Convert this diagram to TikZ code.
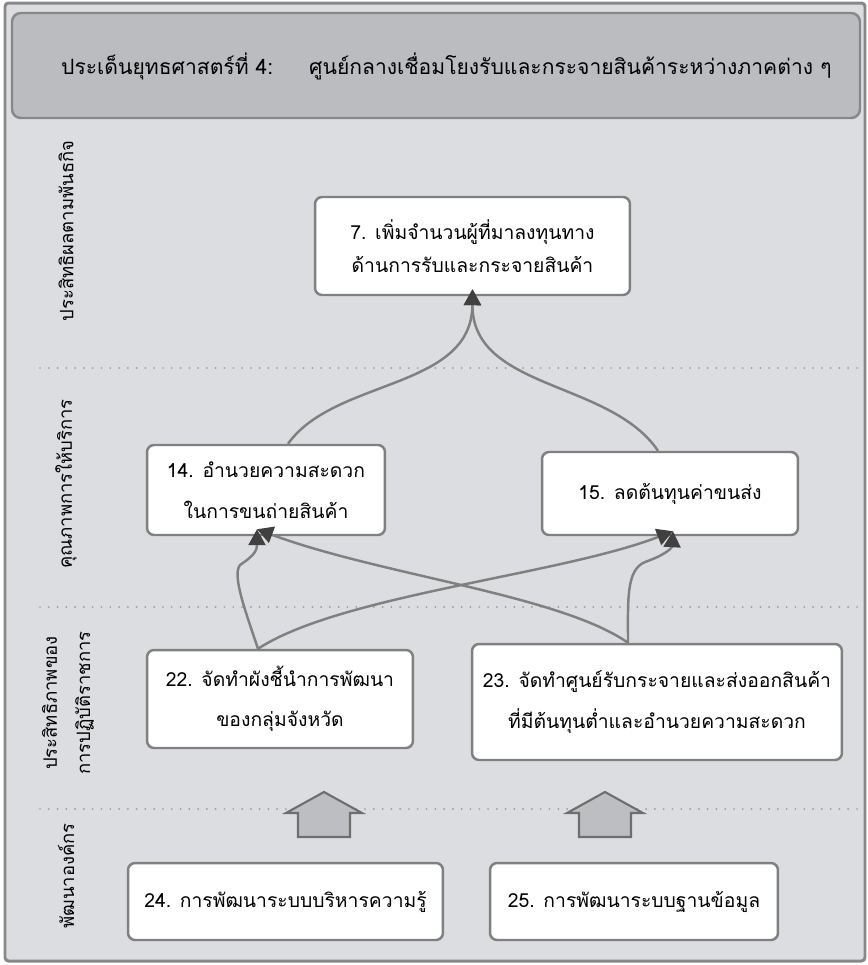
\documentclass[tikz,border=0pt]{standalone}
\usepackage{fontspec}
\newfontfamily\thai[Script=Thai]{Loma}
\usetikzlibrary{arrows.meta}
\definecolor{framegray}{HTML}{888888}
\definecolor{bandgray}{HTML}{DCDDE0}
\definecolor{titlegray}{HTML}{BBBCBF}
\definecolor{linegray}{HTML}{808080}
\definecolor{tipgray}{HTML}{404040}
\definecolor{dotgray}{HTML}{9A9A9A}
\definecolor{blockgray}{HTML}{BDBEC1}
\definecolor{blockedge}{HTML}{6E6E6E}

\begin{document}
\begin{tikzpicture}[x=0.02cm, y=-0.02cm]
    \tikzset{box/.style = {shape=rectangle, draw=linegray, fill=white, line width=1.4pt, rounded corners=4pt, align=center, inner sep=0pt, font=\thai\fontsize{11}{23}\selectfont}}
    \tikzset{side/.style = {rotate=90, align=center, font=\thai\fontsize{10.5}{19}\selectfont}}
    \tikzset{link/.style = {draw=linegray, line width=1.4pt, -{Triangle[length=0.32cm, width=0.34cm, color=tipgray]}}}
    \tikzset{band/.style = {dotgray, line width=1.1pt, line cap=round, dash pattern=on 0pt off 5pt}}
    \tikzset{uparrow/.style = {fill=blockgray, draw=blockedge, line width=1.2pt}}
    \tikzset{heading/.style = {anchor=west, font=\thai\fontsize{12}{15}\selectfont}}

    \useasboundingbox (0,0) rectangle (867,965);

    % frame and title
    \draw[framegray, fill=bandgray, line width=1.7pt, rounded corners=2pt] (5,3) rectangle (865,961);
    \draw[framegray, fill=titlegray, line width=1.4pt, rounded corners=5pt] (12,13) rectangle (860,118);
    \node[heading] (issue) at (55,66) {ประเด็นยุทธศาสตร์ที่ 4:};
    \node[heading] (theme) at (303,66) {ศูนย์กลางเชื่อมโยงรับและกระจายสินค้าระหว่างภาคต่าง ๆ};

    % bands
    \draw[band] (40,368) -- (857,368);
    \draw[band] (40,607) -- (857,607);
    \draw[band] (40,809) -- (857,809);

    % side labels
    \node[side] (mission) at (66,231) {ประสิทธิผลตามพันธกิจ};
    \node[side] (service) at (66,484) {คุณภาพการให้บริการ};
    \node[side] (efficiency) at (68,703) {ประสิทธิภาพของ\\การปฏิบัติราชการ};
    \node[side] (develop) at (66,876) {พัฒนาองค์กร};

    % block arrows
    \foreach \x in {324,605}
        \draw[uparrow] (\x,792) -- (\x+38,813) -- (\x+26,813) -- (\x+26,837) -- (\x-26,837) -- (\x-26,813) -- (\x-38,813) -- cycle;

    % vertices
    \node[box, minimum width=6.3cm, minimum height=1.96cm, font=\thai\fontsize{11}{19}\selectfont] (n7) at (472.5,246) {7. เพิ่มจำนวนผู้ที่มาลงทุนทาง\\ด้านการรับและกระจายสินค้า};
    \node[box, minimum width=4.76cm, minimum height=1.8cm] (n14) at (266,490) {14. อำนวยความสะดวก\\ในการขนถ่ายสินค้า};
    \node[box, minimum width=5.12cm, minimum height=1.66cm] (n15) at (670,493.5) {15. ลดต้นทุนค่าขนส่ง};
    \node[box, minimum width=5.32cm, minimum height=1.96cm] (n22) at (280,699) {22. จัดทำผังชี้นำการพัฒนา\\ของกลุ่มจังหวัด};
    \node[box, minimum width=7.4cm, minimum height=2.32cm] (n23) at (657,702) {23. จัดทำศูนย์รับกระจายและส่งออกสินค้า\\ที่มีต้นทุนต่ำและอำนวยความสะดวก};
    \node[box, minimum width=6.3cm, minimum height=1.54cm] (n24) at (285.5,901.5) {24. การพัฒนาระบบบริหารความรู้};
    \node[box, minimum width=5.76cm, minimum height=1.54cm] (n25) at (634,901.5) {25. การพัฒนาระบบฐานข้อมูล};

    % ends of the edges
    \coordinate (in7) at ([yshift=0.14cm]n7.south);
    \coordinate (in14) at ([xshift=-0.18cm, yshift=0.14cm]n14.south);
    \coordinate (in15) at ([xshift=0.06cm, yshift=0.1cm]n15.south);
    \coordinate (out14) at ([xshift=0.44cm]n14.north);
    \coordinate (out15) at ([xshift=-0.24cm]n15.north);
    \coordinate (out22) at ([xshift=-0.44cm]n22.north);
    \coordinate (out23) at ([xshift=-0.58cm]n23.north);

    % edges
    \draw[link] (out14) .. controls (335,378) and (472,390) .. (in7);
    \draw[link] (out15) .. controls (610,380) and (472,390) .. (in7);
    \draw[link] (out22) .. controls (245,610) and (232,575) .. (240,565) .. controls (255,555) and (257,550) .. (in14);
    \draw[link] (out22) .. controls (340,595) and (560,575) .. (in15);
    \draw[link] (out23) .. controls (560,595) and (380,575) .. (in14);
    \draw[link] (out23) .. controls (628,600) and (626,570) .. (645,562) .. controls (665,555) and (672,548) .. (in15);
\end{tikzpicture}
\end{document}
